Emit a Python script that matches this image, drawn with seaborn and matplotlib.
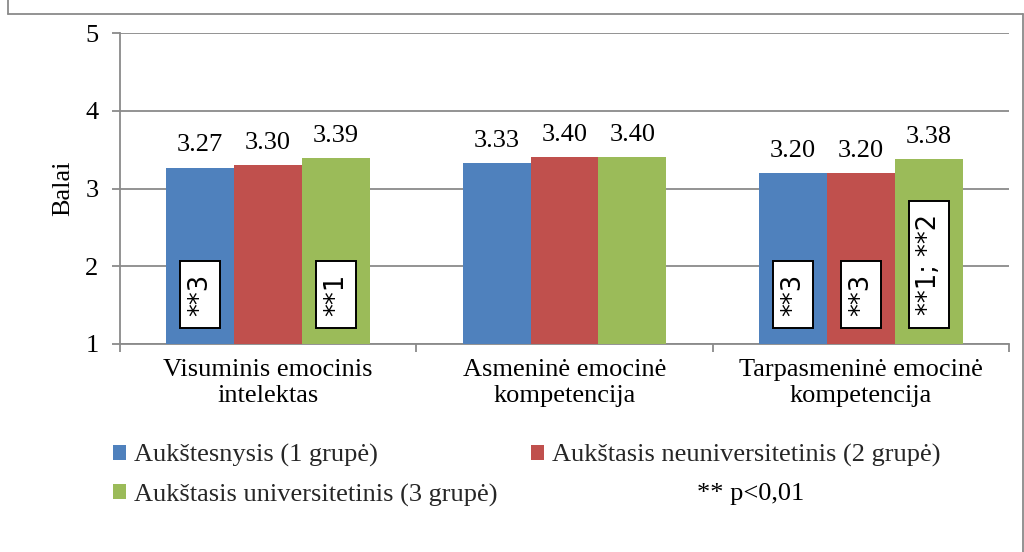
import matplotlib
matplotlib.use("Agg")
import matplotlib.pyplot as plt
import pandas as pd
import seaborn as sns
from matplotlib.patches import Rectangle
from matplotlib.lines import Line2D

# ---- data -------------------------------------------------------------
categories = [
    "Visuminis emocinis\nintelektas",
    "Asmeninė emocinė\nkompetencija",
    "Tarpasmeninė emocinė\nkompetencija",
]
groups = [
    "Aukštesnysis (1 grupė)",
    "Aukštasis neuniversitetinis (2 grupė)",
    "Aukštasis universitetinis (3 grupė)",
]
group1 = [3.27, 3.33, 3.20]
group2 = [3.30, 3.40, 3.20]
group3 = [3.39, 3.40, 3.38]
# significance marks: (category index, group index) -> text
notes = {
    (0, 0): "**3",
    (0, 2): "**1",
    (2, 0): "**3",
    (2, 1): "**3",
    (2, 2): "**1; **2",
}
footnote = "** p<0,01"
y_label = "Balai"
colors = ["#4F81BD", "#C0504D", "#9BBB59"]

rows = []
for g, vals in zip(groups, [group1, group2, group3]):
    for c, v in zip(categories, vals):
        rows.append({"Kategorija": c, "Grupė": g, "Balai": v})
df = pd.DataFrame(rows)

# ---- style ------------------------------------------------------------
sns.set_theme(style="white")
plt.rcParams["font.family"] = ["Liberation Serif", "DejaVu Serif"]
FS = 19
GRAY = "#8a8a8a"

fig = plt.figure(figsize=(10.24, 5.52), dpi=100)
ax = fig.add_axes([120 / 1024, 1 - 344 / 552, 889 / 1024, 311 / 552])

sns.barplot(
    data=df, x="Kategorija", y="Balai", hue="Grupė",
    order=categories, hue_order=groups, palette=colors,
    width=0.688, saturation=1, linewidth=0, ax=ax, zorder=3,
)

ax.set_ylim(1, 5)
ax.set_xlim(-0.5, 2.5)
ax.set_yticks([1, 2, 3, 4, 5])
ax.yaxis.grid(True, color=GRAY, linewidth=1.3, zorder=0)
ax.set_axisbelow(True)
for side in ["top", "right"]:
    ax.spines[side].set_visible(False)
for side in ["left", "bottom"]:
    ax.spines[side].set_color(GRAY)
    ax.spines[side].set_linewidth(1.3)

ax.tick_params(axis="y", which="major", left=True, length=5.5, width=1.3,
               color=GRAY, pad=10, labelsize=FS, labelcolor="black")
ax.set_xticks([0, 1, 2])
ax.set_xticklabels(categories)
ax.set_xticks([-0.5, 0.5, 1.5, 2.5], minor=True)
ax.tick_params(axis="x", which="major", bottom=True, length=0, pad=11,
               labelsize=FS, labelcolor="black")
ax.tick_params(axis="x", which="minor", bottom=True, length=6, width=1.3,
               color=GRAY)
ax.set_xlabel("")
ax.set_ylabel(y_label, fontsize=FS, labelpad=8, color="black")

# value labels
for cont in ax.containers:
    ax.bar_label(cont, fmt="%.2f", padding=8, fontsize=FS, color="black")

# significance boxes inside the bars
for (ci, gi), txt in notes.items():
    bar = ax.containers[gi][ci]
    cx = bar.get_x() + bar.get_width() / 2
    bw = bar.get_width() * 40 / 68
    y0 = 1.205
    h = 0.86 + 0.156 * (len(txt) - 3)
    ax.add_patch(Rectangle((cx - bw / 2, y0), bw, h, facecolor="white",
                           edgecolor="black", linewidth=1.4, zorder=5))
    ax.text(cx, y0 + h / 2, txt, rotation=90, ha="center", va="center",
            fontsize=18.5, family=["DejaVu Sans"], color="black", zorder=6,
            rotation_mode="anchor")

# legend below the plot
handles, labels = ax.get_legend_handles_labels()
ax.legend_.remove()
order = [0, 2, 1]
fig.legend([handles[i] for i in order], [labels[i] for i in order],
           ncol=2, loc="upper left", bbox_to_anchor=(113 / 1024, 1 - 444 / 552),
           frameon=False, borderpad=0, borderaxespad=0, handlelength=0.5,
           handleheight=0.5, handletextpad=0.3, columnspacing=1.25,
           labelspacing=0.62, fontsize=FS)
fig.text(697 / 1024, 1 - 494 / 552, footnote, fontsize=FS, va="center",
         ha="left", color="black")

# chart frame
for xs, ys in [((8, 8), (0, 14)), ((8, 1023), (14, 14)), ((1023, 1023), (14, 552))]:
    fig.add_artist(Line2D([x / 1024 for x in xs], [1 - y / 552 for y in ys],
                          color=GRAY, linewidth=1.3))

fig.savefig("out.png", dpi=100)
